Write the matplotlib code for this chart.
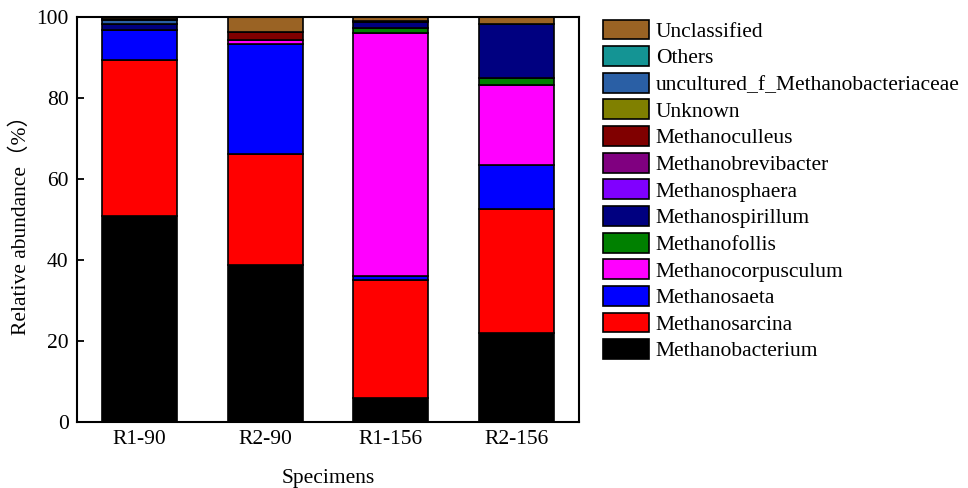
import numpy as np
import matplotlib
matplotlib.use("Agg")
import matplotlib.pyplot as plt

plt.rcParams['font.family'] = ['Liberation Serif', 'Noto Sans CJK SC']

specimens = ["R1-90", "R2-90", "R1-156", "R2-156"]

# stacked from bottom to top
genera = ["Methanobacterium", "Methanosarcina", "Methanosaeta", "Methanocorpusculum",
          "Methanofollis", "Methanospirillum", "Methanosphaera", "Methanobrevibacter",
          "Methanoculleus", "Unknown", "uncultured_f_Methanobacteriaceae", "Others",
          "Unclassified"]
colors = ["#000000", "#ff0000", "#0000ff", "#ff00ff", "#008000", "#000080",
          "#8000ff", "#800080", "#800000", "#808000", "#2a5fa5", "#149494",
          "#9a6324"]

methanobacterium = [51.0, 38.9, 5.9, 22.0]
methanosarcina = [38.4, 27.4, 29.2, 30.5]
methanosaeta = [7.4, 27.1, 1.0, 11.0]
methanocorpusculum = [0.0, 1.0, 59.9, 19.8]
methanofollis = [0.0, 0.0, 1.3, 1.6]
methanospirillum = [1.5, 0.0, 1.5, 13.4]
methanosphaera = [0.0, 0.0, 0.0, 0.0]
methanobrevibacter = [0.0, 0.0, 0.0, 0.0]
methanoculleus = [0.0, 1.8, 0.0, 0.0]
unknown = [0.0, 0.0, 0.0, 0.0]
uncultured = [1.0, 0.0, 0.0, 0.0]
others = [0.2, 0.0, 0.2, 0.0]
unclassified = [0.5, 3.8, 1.0, 1.7]

series = [methanobacterium, methanosarcina, methanosaeta, methanocorpusculum,
          methanofollis, methanospirillum, methanosphaera, methanobrevibacter,
          methanoculleus, unknown, uncultured, others, unclassified]

fig = plt.figure(figsize=(9.68, 4.88), dpi=100)
ax = fig.add_axes([0.0795, 0.135, 0.5186, 0.830])

x = np.arange(len(specimens))
bottom = np.zeros(len(specimens))
handles = []
for name, vals, c in zip(genera, series, colors):
    vals = np.array(vals)
    b = ax.bar(x, vals, 0.6, bottom=bottom, color=c, edgecolor="black",
               linewidth=1.2, label=name)
    handles.append(b)
    bottom += vals

ax.set_xlim(-0.5, 3.5)
ax.set_ylim(0, 100)
ax.set_yticks([0, 20, 40, 60, 80, 100])
ax.set_xticks(x)
ax.set_xticklabels(specimens)
ax.tick_params(labelsize=15.5, width=1.3, length=5, direction="in", pad=6)
for s in ax.spines.values():
    s.set_linewidth(1.5)
ax.set_xlabel("Specimens", fontsize=15.5, labelpad=14)
ax.set_ylabel("Relative abundance（%）", fontsize=15.5, labelpad=4)

leg = fig.legend(handles[::-1], genera[::-1], loc="upper left",
                 bbox_to_anchor=(0.623, 0.96), frameon=False, fontsize=15.5,
                 handlelength=2.15, handleheight=1.05, labelspacing=0.2,
                 handletextpad=0.3, borderpad=0, borderaxespad=0)

fig.savefig("out.png", dpi=100)
